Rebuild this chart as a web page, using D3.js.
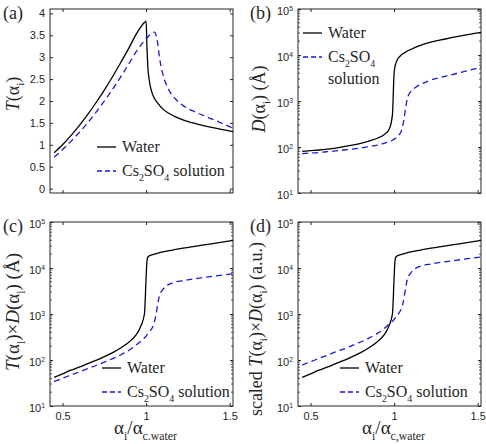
<!DOCTYPE html>
<html>
<head>
<meta charset="utf-8">
<script src="https://cdn.jsdelivr.net/npm/d3@7"></script>
<style>
  body { margin: 0; background: #fff; }
</style>
</head>
<body>
<div id="chart"></div>
<script>
// incidence angle, in units of the critical angle of water
const alpha = [0.45, 0.5, 0.55, 0.6, 0.65, 0.7, 0.75, 0.8, 0.85, 0.9, 0.94, 0.97, 0.99, 1.0, 1.005,
               1.01, 1.02, 1.03, 1.04, 1.05, 1.06, 1.07, 1.08, 1.1, 1.13, 1.17, 1.22, 1.3, 1.4, 1.52];

// (a) transmission T
const tWater = [0.82, 1.0, 1.21, 1.44, 1.69, 1.96, 2.25, 2.56, 2.89, 3.23, 3.52, 3.7, 3.79, 3.82, 3.25,
                2.8, 2.45, 2.26, 2.14, 2.06, 2.0, 1.95, 1.9, 1.82, 1.73, 1.65, 1.57, 1.48, 1.39, 1.3];
const tCs = [0.72, 0.89, 1.08, 1.28, 1.5, 1.74, 2.0, 2.27, 2.56, 2.87, 3.12, 3.28, 3.37, 3.41, 3.44,
             3.46, 3.5, 3.53, 3.56, 3.57, 3.5, 3.3, 3.0, 2.62, 2.3, 2.07, 1.9, 1.74, 1.58, 1.38];

// (b) penetration depth D (Å)
const dWater = [80, 83, 86, 90, 95, 102, 110, 120, 135, 155, 185, 240, 500, 4000, 5500,
                6500, 8000, 9000, 9800, 10500, 11000, 11600, 12200, 13200, 14800, 16800, 19000, 22000, 26000, 31000];
const dCs = [72, 74, 76, 79, 82, 86, 90, 95, 102, 110, 120, 130, 140, 148, 152,
             157, 168, 185, 210, 270, 420, 750, 1150, 1600, 2000, 2400, 2850, 3400, 4200, 5400];

// (c) T x D (Å)
const tdWater = [42, 50, 60, 70, 83, 98, 118, 145, 185, 250, 350, 560, 1000, 6000, 14000,
                 17000, 18500, 19000, 19500, 20000, 20500, 21000, 21500, 22300, 23500, 25000, 27000, 30000, 34000, 40000];
const tdCs = [34, 40, 47, 55, 65, 76, 90, 107, 130, 165, 210, 260, 300, 330, 350,
              370, 410, 460, 530, 680, 1000, 1700, 2500, 3400, 4300, 4900, 5300, 5900, 6600, 7500];

// (d) scaled T x D (a.u.)
const stdWater = [42, 50, 60, 70, 83, 98, 118, 145, 185, 250, 350, 560, 1000, 6000, 14000,
                  17000, 18500, 19000, 19500, 20000, 20500, 21000, 21500, 22300, 23500, 25000, 27000, 30000, 34000, 40000];
const stdCs = [78, 92, 108, 127, 150, 175, 207, 246, 300, 380, 483, 600, 690, 760, 805,
               850, 940, 1060, 1220, 1560, 2300, 3900, 5750, 7800, 9900, 11300, 12200, 13600, 15200, 17300];

const xTicks = [0.5, 1, 1.5];
const linTicks = [0, 0.5, 1, 1.5, 2, 2.5, 3, 3.5, 4];
const logTicks = [1e1, 1e2, 1e3, 1e4, 1e5];

const W = 486, H = 444;
const SANS = "Liberation Sans, Arial, sans-serif";
const SERIF = "Liberation Serif, Times New Roman, serif";
const INK = "#262626";
const BLUE = "#1a1ad6";
const LEG = 16;

const svg = d3.select("#chart").append("svg")
    .attr("width", W).attr("height", H);

// text made of pieces, some of them subscript / superscript / italic
function rich(t, parts, size) {
    let shift = 0;
    parts.forEach(p => {
        const target = p.sub ? size * 0.3 : p.sup ? -size * 0.4 : 0;
        const ts = t.append("tspan").text(p.t);
        if (target - shift !== 0) ts.attr("dy", target - shift);
        if (p.sub || p.sup) ts.attr("font-size", size * 0.62);
        if (p.it) ts.attr("font-style", "italic");
        shift = target;
    });
}
const tOf = [{t: "T", it: true}, {t: "(\u03b1"}, {t: "i", sub: true}, {t: ")"}];
const dOf = [{t: "D", it: true}, {t: "(\u03b1"}, {t: "i", sub: true}, {t: ")"}];

function drawPanel(box, opts) {
    const x = d3.scaleLinear().domain([0.425, 1.52]).range([box.x0, box.x1]);
    const y = opts.log
        ? d3.scaleLog().domain([10, 1e5]).range([box.y1, box.y0])
        : d3.scaleLinear().domain([-0.1, 4.1]).range([box.y1, box.y0]);

    const g = svg.append("g");
    const clipId = "clip" + opts.id;
    g.append("clipPath").attr("id", clipId)
     .append("rect").attr("x", box.x0).attr("y", box.y0)
     .attr("width", box.x1 - box.x0).attr("height", box.y1 - box.y0);

    // x axes, ticks inside
    g.append("g").attr("transform", `translate(0,${box.y1})`)
     .call(d3.axisBottom(x).tickValues(xTicks).tickSize(-3).tickPadding(6)
           .tickFormat(opts.xlabel ? d3.format("") : () => ""))
     .call(a => a.select(".domain").remove());
    g.append("g").attr("transform", `translate(0,${box.y0})`)
     .call(d3.axisTop(x).tickValues(xTicks).tickSize(-3).tickFormat(() => ""))
     .call(a => a.select(".domain").remove());

    // y axes
    const left = d3.axisLeft(y).tickValues(opts.log ? logTicks : linTicks)
        .tickSize(-3).tickPadding(5)
        .tickFormat(opts.log ? () => "" : d3.format(""));
    const la = g.append("g").attr("transform", `translate(${box.x0},0)`).call(left);
    la.select(".domain").remove();
    g.append("g").attr("transform", `translate(${box.x1},0)`)
     .call(d3.axisRight(y).tickValues(opts.log ? logTicks : linTicks).tickSize(-3).tickFormat(() => ""))
     .call(a => a.select(".domain").remove());

    g.selectAll(".tick text").filter(function() { return this.textContent === ""; }).remove();

    if (opts.log) {
        la.selectAll(".tick").append("text")
          .attr("x", -5).attr("dy", "0.5em").attr("text-anchor", "end")
          .each(function(d) {
              rich(d3.select(this), [{t: "10"}, {t: String(Math.round(Math.log10(d))), sup: true}], 11);
          });
        // minor ticks
        const minor = [];
        [10, 100, 1000, 10000].forEach(p => { for (let k = 2; k < 10; k++) minor.push(p * k); });
        [box.x0, box.x1].forEach((xx, i) => {
            g.selectAll(null).data(minor).enter().append("line")
             .attr("x1", xx).attr("x2", i ? xx - 2 : xx + 2)
             .attr("y1", d => y(d)).attr("y2", d => y(d))
             .attr("stroke", INK).attr("stroke-width", 0.8);
        });
    }

    g.selectAll(".tick text").attr("font-size", 11).attr("font-family", SANS).attr("fill", INK);
    g.selectAll(".tick line").attr("stroke", INK);

    // box
    g.append("rect").attr("x", box.x0).attr("y", box.y0)
     .attr("width", box.x1 - box.x0).attr("height", box.y1 - box.y0)
     .attr("fill", "none").attr("stroke", INK).attr("stroke-width", 1);

    const line = d3.line().x((d, i) => x(alpha[i])).y(d => y(d)).curve(d3.curveMonotoneX);
    const plot = g.append("g").attr("clip-path", `url(#${clipId})`);
    plot.append("path").datum(opts.water).attr("d", line)
        .attr("fill", "none").attr("stroke", "#000").attr("stroke-width", 1.3);
    plot.append("path").datum(opts.cs).attr("d", line)
        .attr("fill", "none").attr("stroke", BLUE).attr("stroke-width", 1.3)
        .attr("stroke-dasharray", "6,4");

    // legend
    const L = opts.legend;
    g.append("line").attr("x1", L.x).attr("x2", L.x + 19).attr("y1", L.y).attr("y2", L.y)
     .attr("stroke", "#000").attr("stroke-width", 1.3);
    g.append("line").attr("x1", L.x).attr("x2", L.x + 19).attr("y1", L.y + 24).attr("y2", L.y + 24)
     .attr("stroke", BLUE).attr("stroke-width", 1.3).attr("stroke-dasharray", "5,3");
    g.append("text").attr("x", L.x + 25).attr("y", L.y + 5)
     .attr("font-family", SERIF).attr("font-size", LEG).attr("fill", INK).text("Water");
    const t2 = g.append("text").attr("x", L.x + 25).attr("y", L.y + 29)
     .attr("font-family", SERIF).attr("font-size", LEG).attr("fill", INK);
    const csParts = [{t: "Cs"}, {t: "2", sub: true}, {t: "SO"}, {t: "4", sub: true}];
    if (L.wrap) {
        rich(t2, csParts, LEG);
        g.append("text").attr("x", L.x + 25).attr("y", L.y + 51)
         .attr("font-family", SERIF).attr("font-size", LEG).attr("fill", INK).text("solution");
    } else {
        rich(t2, csParts.concat([{t: " solution"}]), LEG);
    }

    // y label
    const yl = g.append("text")
        .attr("transform", `translate(${opts.ylabX},${opts.ylabY}) rotate(-90)`)
        .attr("text-anchor", "middle")
        .attr("font-family", SERIF).attr("font-size", opts.ylabSize).attr("fill", INK);
    rich(yl, opts.ylabel, opts.ylabSize);

    // panel letter
    g.append("text").attr("x", opts.letterX).attr("y", box.y0 + 10)
     .attr("font-family", SERIF).attr("font-size", 18).attr("fill", INK).text(opts.letter);

    // x label
    if (opts.xlabel) {
        const xl = g.append("text").attr("x", (box.x0 + box.x1) / 2 + 4).attr("y", 434)
            .attr("text-anchor", "middle")
            .attr("font-family", SERIF).attr("font-size", 19).attr("fill", INK);
        rich(xl, [{t: "\u03b1"}, {t: "i", sub: true}, {t: "/\u03b1"}, {t: opts.xlabel, sub: true}], 19);
    }
}

drawPanel({x0: 50, x1: 233, y0: 9, y1: 193}, {
    id: "a", log: false, water: tWater, cs: tCs,
    legend: {x: 97, y: 147}, letter: "(a)", letterX: 3,
    ylabX: 19, ylabY: 94, ylabSize: 18, ylabel: tOf
});
drawPanel({x0: 298, x1: 481, y0: 9, y1: 193}, {
    id: "b", log: true, water: dWater, cs: dCs,
    legend: {x: 303, y: 33, wrap: true}, letter: "(b)", letterX: 250,
    ylabX: 265, ylabY: 99, ylabSize: 18, ylabel: dOf.concat([{t: " (\u00c5)"}])
});
drawPanel({x0: 50, x1: 233, y0: 222, y1: 406}, {
    id: "c", log: true, water: tdWater, cs: tdCs,
    legend: {x: 102, y: 368}, letter: "(c)", letterX: 3, xlabel: "c.water",
    ylabX: 19, ylabY: 312, ylabSize: 19,
    ylabel: tOf.concat([{t: "\u00d7"}], dOf, [{t: " (\u00c5)"}])
});
drawPanel({x0: 298, x1: 481, y0: 222, y1: 406}, {
    id: "d", log: true, water: stdWater, cs: stdCs,
    legend: {x: 340, y: 368}, letter: "(d)", letterX: 250, xlabel: "c,water",
    ylabX: 262, ylabY: 329, ylabSize: 18,
    ylabel: [{t: "scaled "}].concat(tOf, [{t: "\u00d7"}], dOf, [{t: " (a.u.)"}])
});
</script>
</body>
</html>
